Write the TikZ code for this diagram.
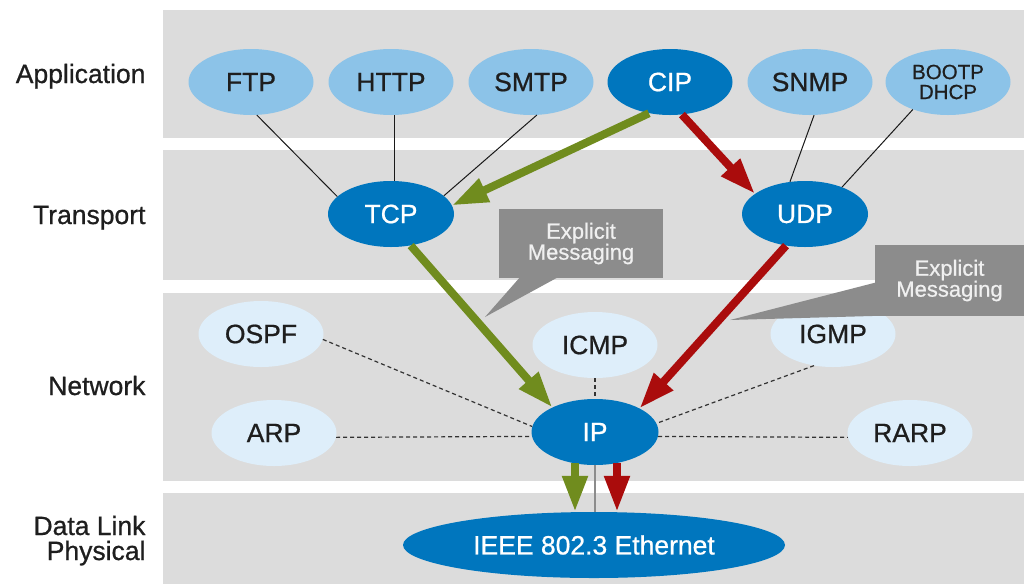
\documentclass[tikz,border=0pt]{standalone}
\usepackage{fontspec}
\setmainfont{Liberation Sans}[FakeBold=0.7]
\usetikzlibrary{shapes.geometric,arrows.meta}
\definecolor{bandgray}{RGB}{220,220,220}
\definecolor{lblue}{RGB}{140,195,232}
\definecolor{dblue}{RGB}{0,118,190}
\definecolor{nblue}{RGB}{222,238,250}
\definecolor{callgray}{RGB}{140,140,140}
\definecolor{garrowc}{RGB}{112,140,30}
\definecolor{rarrowc}{RGB}{170,12,12}
\definecolor{txt}{RGB}{30,30,30}
\definecolor{calltxt}{RGB}{240,240,240}
\begin{document}
\begin{tikzpicture}[x=1pt,y=-1pt,
  band/.style={fill=bandgray},
  proto/.style={ellipse, minimum width=125pt, minimum height=66pt, inner sep=0pt, font=\fontsize{26.5}{28}\selectfont},
  appnode/.style={proto, fill=lblue, text=txt},
  corenode/.style={proto, fill=dblue, text=white},
  netnode/.style={proto, fill=nblue, text=txt},
  layerlabel/.style={anchor=base east, align=right, text=txt, font=\fontsize{26.5}{25}\selectfont},
  callout/.style={fill=callgray, text=calltxt, align=center, inner sep=0pt, font=\fontsize{22}{21}\selectfont},
  thinline/.style={draw=black!90, line width=1pt},
  dashline/.style={draw=black!80, line width=1.2pt, dash pattern=on 4pt off 3pt},
  greenarrow/.style={draw=garrowc, line width=8pt, -{Triangle[length=36pt,width=24pt]}},
  redarrow/.style={draw=rarrowc, line width=8pt, -{Triangle[length=36pt,width=24pt]}}
]
\useasboundingbox (0,0) rectangle (1024,584);
\fill[white] (0,0) rectangle (1024,584);
% bands
\fill[band] (163,10) rectangle (1024,138);
\fill[band] (163,150) rectangle (1024,280);
\fill[band] (163,293) rectangle (1024,481);
\fill[band] (163,493) rectangle (1024,584);
% layer labels
\node[layerlabel] (lapp) at (149,83) {Application};
\node[layerlabel] (ltra) at (149,224) {Transport};
\node[layerlabel] (lnet) at (149,395) {Network};
\node[layerlabel] (ldl) at (149,560) {Data Link\\Physical};
% application
\node[appnode] (ftp) at (251,82) {FTP};
\node[appnode] (http) at (391,82) {HTTP};
\node[appnode] (smtp) at (531,82) {SMTP};
\node[corenode] (cip) at (670,82) {CIP};
\node[appnode] (snmp) at (810,82) {SNMP};
\node[appnode, align=center, font=\fontsize{20.5}{20}\selectfont] (boot) at (948,82) {BOOTP\\DHCP};
% transport
\node[corenode, minimum width=126pt] (tcp) at (391,214) {TCP};
\node[corenode, minimum width=126pt] (udp) at (805,214) {UDP};
% network
\node[netnode] (ospf) at (261,334) {OSPF};
\node[netnode] (icmp) at (595,345) {ICMP};
\node[netnode] (igmp) at (833,334) {IGMP};
\node[netnode] (arp) at (274,433) {ARP};
\node[corenode, minimum width=127pt] (ip) at (595,432) {IP};
\node[netnode] (rarp) at (910,433) {RARP};
% data link
\node[corenode, minimum width=382pt] (eth) at (594,545) {IEEE 802.3 Ethernet};
% thin lines
\draw[thinline] (ftp.-80) -- (tcp.162);
\draw[thinline] ([xshift=3pt]http.south) -- ([xshift=3pt]tcp.north);
\draw[thinline] (smtp.-80) -- (tcp.19);
\draw[thinline] (snmp.-83) -- (udp.115);
\draw[thinline] (boot.-142) -- (udp.36);
% dashed lines
\draw[dashline] (ospf.-5) -- (ip.175);
\draw[dashline] (arp.-4) -- (ip.184);
\draw[dashline] (icmp.south) -- (ip.north);
\draw[dashline] (igmp.-121) -- (ip.8);
\draw[dashline] (ip.-4) -- (rarp.184);
% vertical gray
\draw[draw=black!45, line width=1.6pt] (ip.south) -- (ip.south |- eth.north);
% arrows
\draw[greenarrow] (cip.-124) -- (tcp.8);
\draw[greenarrow] (tcp.-58) -- (ip.150);
\draw[redarrow] (cip.-70) -- (udp.158);
\draw[redarrow] (udp.-121) -- (ip.28);
\draw[greenarrow] ([xshift=-20pt,yshift=2pt]ip.south) -- ([xshift=-19pt]eth.north);
\draw[redarrow] ([xshift=22pt,yshift=2pt]ip.south) -- ([xshift=23pt]eth.north);
% callouts
\node[callout, minimum width=164pt, minimum height=69pt] (cm1) at (581,243.5) {Explicit\\Messaging};
\coordinate (t1) at (485,317);
\fill[callgray] ([xshift=-61pt,yshift=1pt]cm1.south) -- (t1) -- ([xshift=-23pt,yshift=1pt]cm1.south) -- cycle;
\node[callout, minimum width=149pt, minimum height=71pt] (cm2) at (949.5,280.5) {Explicit\\Messaging};
\coordinate (t2) at (730,320);
\fill[callgray] ([yshift=-2pt,xshift=1pt]cm2.west) -- (t2) -- ([xshift=-49pt,yshift=1pt]cm2.south) -- cycle;
\end{tikzpicture}
\end{document}
